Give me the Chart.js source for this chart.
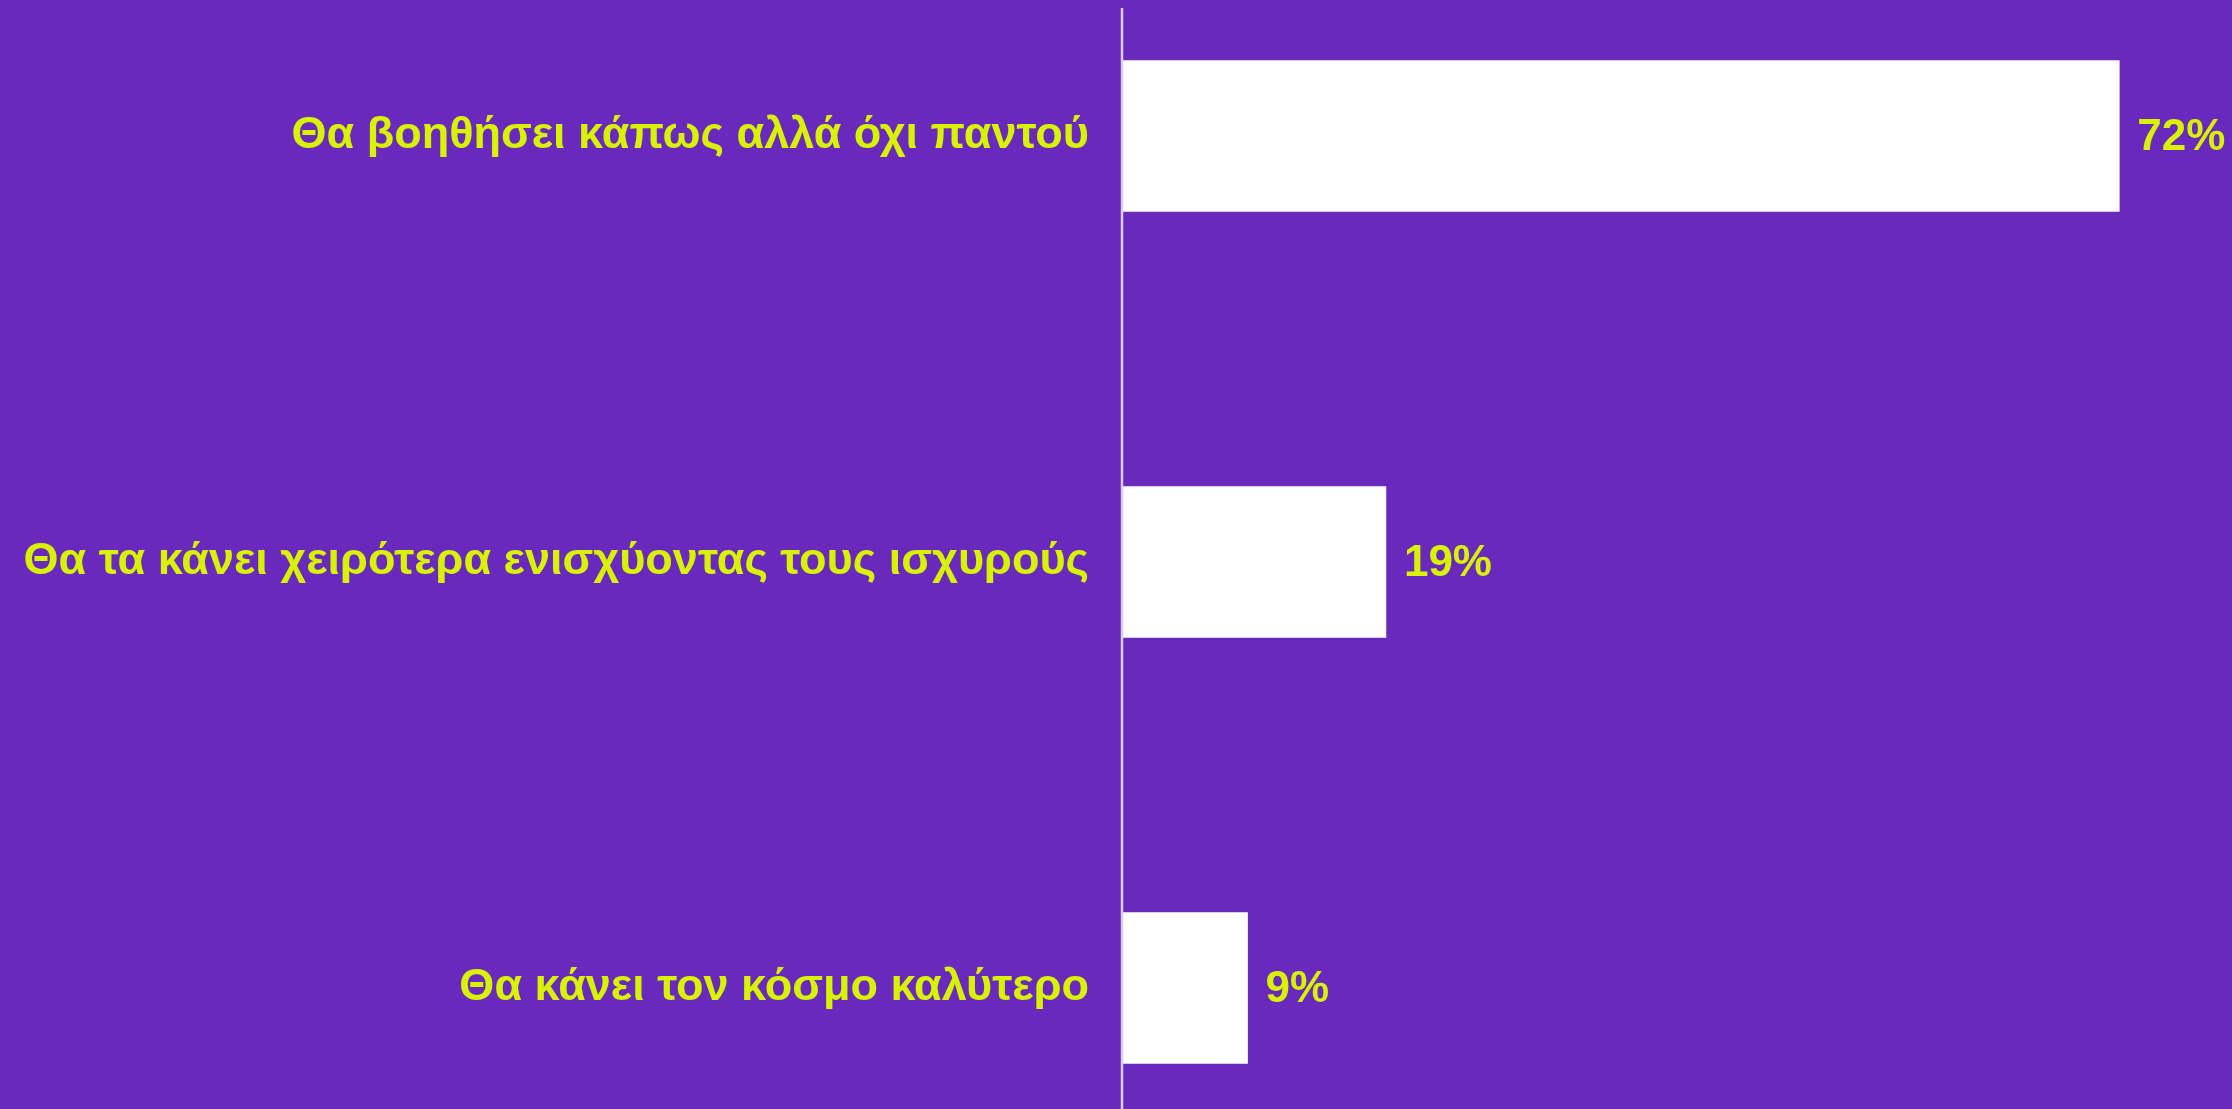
<!DOCTYPE html>
<html lang="el">
  <head>
    <meta charset="UTF-8" />
    <title>Poll</title>
    <script src="https://cdn.jsdelivr.net/npm/chart.js"></script>
    <style>
      html, body { margin: 0; padding: 0; background: #6829bc; }
      .canvas { width: 2232px; height: 1109px; position: relative; }
    </style>
  </head>
  <body>
    <div class="canvas">
      <canvas id="myChart"></canvas>
    </div>
    <script>
      let answers = [
        "Θα βοηθήσει κάπως αλλά όχι παντού",
        "Θα τα κάνει χειρότερα ενισχύοντας τους ισχυρούς",
        "Θα κάνει τον κόσμο καλύτερο",
      ];
      let percents = [72, 19, 9];

      const yellow = "#d8f300";
      const font = { family: "'Liberation Sans', Arial, sans-serif", size: 45, weight: "bold" };

      // value labels next to bars + the thin vertical axis line
      const extras = {
        id: "extras",
        afterDatasetsDraw(chart) {
          const ctx = chart.ctx;
          const area = chart.chartArea;
          ctx.save();
          ctx.strokeStyle = "#d6cfe6";
          ctx.lineWidth = 2.5;
          ctx.beginPath();
          ctx.moveTo(area.left - 1, 8);
          ctx.lineTo(area.left - 1, chart.height);
          ctx.stroke();

          ctx.fillStyle = yellow;
          ctx.font = "bold 44px 'Liberation Sans', Arial, sans-serif";
          ctx.textBaseline = "middle";
          ctx.textAlign = "left";
          chart.getDatasetMeta(0).data.forEach((bar, i) => {
            ctx.fillText(percents[i] + "%", bar.x + 18, bar.y + 2);
          });
          ctx.restore();
        },
      };

      new Chart(document.getElementById("myChart"), {
        type: "bar",
        data: {
          labels: answers,
          datasets: [
            {
              data: percents,
              backgroundColor: "#ffffff",
              borderWidth: 0,
              barThickness: 151,
              clip: false,
            },
          ],
        },
        plugins: [extras],
        options: {
          indexAxis: "y",
          responsive: true,
          maintainAspectRatio: false,
          animation: false,
          layout: { padding: { top: 136, bottom: 121, left: 0, right: 2 } },
          plugins: { legend: { display: false }, tooltip: { enabled: false } },
          scales: {
            x: { min: 0, max: 80, display: false },
            y: {
              offset: false,
              border: { display: false },
              grid: { display: false, drawTicks: false },
              ticks: { color: yellow, font: font, padding: 34 },
              afterFit(scale) {
                scale.width = 1123;
              },
            },
          },
        },
      });
    </script>
  </body>
</html>
